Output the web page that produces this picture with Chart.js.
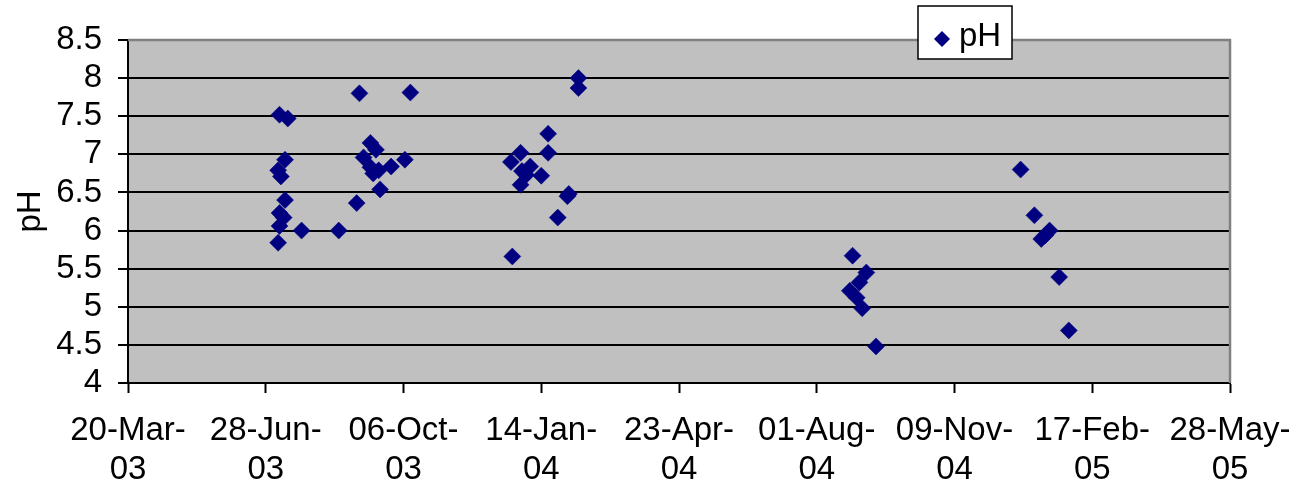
<!DOCTYPE html>
<html>
<head>
<meta charset="utf-8">
<title>pH</title>
<script src="https://cdn.jsdelivr.net/npm/chart.js@4/dist/chart.umd.min.js"></script>
<style>
  html, body { margin: 0; padding: 0; background: #ffffff; }
  #wrap { width: 1289px; height: 485px; }
</style>
</head>
<body>
<div id="wrap"><canvas id="c" width="1289" height="485"></canvas></div>
<script>
// Sampling dates as spreadsheet day serials (1900 date system; 37700 = 20-Mar-2003)
const sampleDay = [
  37810, 37816, 37868, 37905, 37876, 37880, 37814, 37871, 37901, 37809,
  37811, 37876, 37878, 37882, 37891, 37883, 37814, 37866, 37810, 37813,
  37810, 37826, 37853, 37809,
  38027, 38027, 38005, 37985, 38005, 37978, 37992, 37986, 37989, 38000,
  37985, 38020, 38019, 38012, 37979,
  38226, 38236, 38231, 38224, 38229, 38233, 38243,
  38348, 38358, 38363, 38366, 38369, 38376, 38383
];
// Measured pH for each sampling date
const phValue = [
  7.52, 7.47, 7.80, 7.81, 7.15, 7.06, 6.93, 6.96, 6.93, 6.79,
  6.71, 6.83, 6.75, 6.79, 6.84, 6.54, 6.40, 6.36, 6.23, 6.17,
  6.06, 6.00, 6.00, 5.84,
  8.00, 7.87, 7.27, 7.02, 7.02, 6.90, 6.84, 6.78, 6.73, 6.72,
  6.60, 6.48, 6.45, 6.17, 5.66,
  5.67, 5.45, 5.32, 5.21, 5.12, 4.98, 4.48,
  6.80, 6.20, 5.89, 5.94, 6.00, 5.39, 4.69
];
// Date axis: one tick every 100 days
const xTickDays = [37700, 37800, 37900, 38000, 38100, 38200, 38300, 38400, 38500];
const xTickLabels = [
  ['20-Mar-', '03'], ['28-Jun-', '03'], ['06-Oct-', '03'], ['14-Jan-', '04'],
  ['23-Apr-', '04'], ['01-Aug-', '04'], ['09-Nov-', '04'], ['17-Feb-', '05'],
  ['28-May-', '05']
];
const yTicks = [4, 4.5, 5, 5.5, 6, 6.5, 7, 7.5, 8, 8.5];

const seriesName = 'pH';
const markerColor = '#000080';
const FONT = 'Liberation Sans, Arial, Helvetica, sans-serif';
const FONT_SIZE = 33;

const points = sampleDay.map((d, i) => ({ x: d, y: phValue[i] }));

// Grey plot background and the grey frame on the top/right edges
const plotFrame = {
  id: 'plotFrame',
  beforeDraw(chart) {
    const { ctx, chartArea: a } = chart;
    ctx.save();
    ctx.fillStyle = '#c0c0c0';
    ctx.fillRect(a.left, a.top, a.right - a.left, a.bottom - a.top);
    ctx.restore();
  },
  afterDatasetsDraw(chart) {
    const { ctx, chartArea: a } = chart;
    ctx.save();
    ctx.strokeStyle = '#808080';
    ctx.lineWidth = 2.5;
    ctx.beginPath();
    ctx.moveTo(a.left, a.top);
    ctx.lineTo(a.right, a.top);
    ctx.lineTo(a.right, a.bottom);
    ctx.stroke();
    ctx.restore();
  }
};

// Boxed legend sitting over the top edge of the plot
const boxLegend = {
  id: 'boxLegend',
  afterDraw(chart) {
    const { ctx } = chart;
    const bx = 918, by = 6, bw = 94, bh = 53;
    ctx.save();
    ctx.fillStyle = '#ffffff';
    ctx.fillRect(bx, by, bw, bh);
    ctx.strokeStyle = '#000000';
    ctx.lineWidth = 1.5;
    ctx.strokeRect(bx, by, bw, bh);
    const mx = 942, my = 39, r = 8;
    ctx.fillStyle = markerColor;
    ctx.beginPath();
    ctx.moveTo(mx - r, my);
    ctx.lineTo(mx, my - r);
    ctx.lineTo(mx + r, my);
    ctx.lineTo(mx, my + r);
    ctx.closePath();
    ctx.fill();
    ctx.fillStyle = '#000000';
    ctx.font = FONT_SIZE + 'px ' + FONT;
    ctx.textBaseline = 'alphabetic';
    ctx.textAlign = 'left';
    ctx.fillText(seriesName, 959, 46);
    ctx.restore();
  }
};

new Chart(document.getElementById('c'), {
  type: 'scatter',
  data: {
    datasets: [{
      label: seriesName,
      data: points,
      pointStyle: 'rectRot',
      pointRadius: 8.5,
      pointHoverRadius: 8.5,
      pointBorderWidth: 0.5,
      backgroundColor: markerColor,
      borderColor: markerColor
    }]
  },
  options: {
    responsive: false,
    animation: false,
    devicePixelRatio: 1,
    layout: { padding: { left: 0, right: 59, top: 40, bottom: 0 } },
    plugins: { legend: { display: false }, tooltip: { enabled: false } },
    scales: {
      x: {
        type: 'linear',
        min: xTickDays[0],
        max: xTickDays[xTickDays.length - 1],
        afterBuildTicks(scale) { scale.ticks = xTickDays.map(v => ({ value: v })); },
        afterFit(scale) {
          scale.height = 102;
          scale.paddingLeft = 0;
          scale.paddingRight = 0;
        },
        ticks: {
          autoSkip: false,
          maxRotation: 0,
          padding: 19,
          color: '#000000',
          font: { family: FONT, size: FONT_SIZE, lineHeight: 1.17 },
          callback(value) {
            const i = xTickDays.indexOf(value);
            return i >= 0 ? xTickLabels[i] : '';
          }
        },
        grid: {
          drawOnChartArea: false,
          drawTicks: true,
          tickLength: 10,
          tickColor: '#000000',
          tickWidth: 2,
          color: '#000000'
        },
        border: { display: true, color: '#000000', width: 2 }
      },
      y: {
        type: 'linear',
        min: yTicks[0],
        max: yTicks[yTicks.length - 1],
        afterBuildTicks(scale) { scale.ticks = yTicks.map(v => ({ value: v })); },
        afterFit(scale) {
          scale.width = 128;
          scale.paddingTop = 0;
          scale.paddingBottom = 0;
        },
        title: {
          display: true,
          text: seriesName,
          color: '#000000',
          font: { family: FONT, size: FONT_SIZE, lineHeight: 1.2 },
          padding: { top: 11, bottom: 0 }
        },
        ticks: {
          autoSkip: false,
          padding: 16,
          color: '#000000',
          font: { family: FONT, size: FONT_SIZE },
          callback(value) { return String(value); }
        },
        grid: {
          drawTicks: true,
          tickLength: 10,
          tickColor: '#000000',
          lineWidth: 2,
          color(ctx) { return ctx.tick && ctx.tick.value === 8.5 ? '#808080' : '#000000'; }
        },
        border: { display: true, color: '#000000', width: 2 }
      }
    }
  },
  plugins: [plotFrame, boxLegend]
});
</script>
</body>
</html>
